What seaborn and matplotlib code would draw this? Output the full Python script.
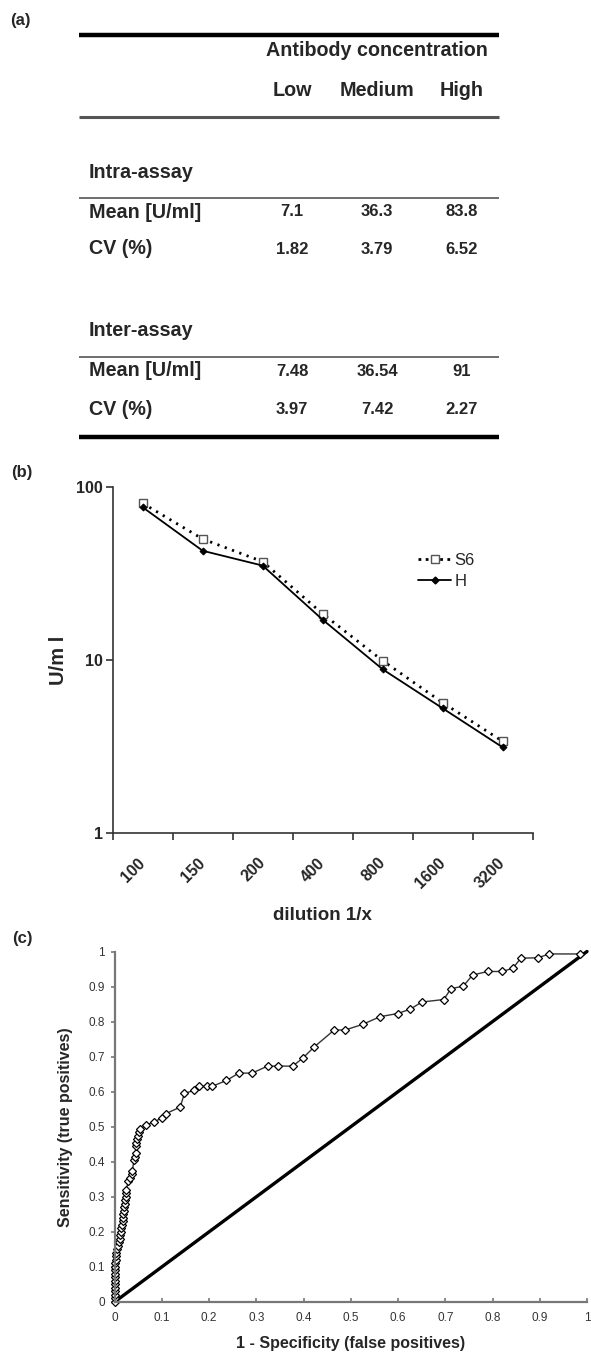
import numpy as np
import pandas as pd
import matplotlib
matplotlib.use("Agg")
import matplotlib.pyplot as plt
import seaborn as sns
from matplotlib.lines import Line2D

# ---------------- data ----------------
# (a) precision table
conc_header = "Antibody concentration"
conc_levels = ["Low", "Medium", "High"]
row_labels = ["Mean [U/ml]", "CV (%)"]
intra_mean = ["7.1", "36.3", "83.8"]
intra_cv = ["1.82", "3.79", "6.52"]
inter_mean = ["7.48", "36.54", "91"]
inter_cv = ["3.97", "7.42", "2.27"]

# (b) dilution series
dilutions = ["100", "150", "200", "400", "800", "1600", "3200"]
s6_values = [80.8, 50.2, 37.1, 18.5, 9.9, 5.66, 3.38]
h_values = [76.6, 42.9, 35.2, 17.1, 8.83, 5.25, 3.12]

# (c) ROC curve
roc_fpr = [0, 0, 0, 0, 0, 0, 0, 0, 0, 0.001, 0.002, 0.002, 0.003, 0.003, 0.004,
           0.006, 0.008, 0.009, 0.011, 0.012, 0.013, 0.014, 0.016, 0.017, 0.018,
           0.019, 0.020, 0.021, 0.022, 0.023, 0.024, 0.024, 0.025, 0.029, 0.033,
           0.036, 0.038, 0.041, 0.043, 0.046, 0.045, 0.046, 0.048, 0.050, 0.052,
           0.054, 0.066, 0.084, 0.100, 0.108, 0.139, 0.148, 0.169, 0.179, 0.196,
           0.206, 0.237, 0.263, 0.291, 0.324, 0.347, 0.377, 0.398, 0.422, 0.465,
           0.488, 0.525, 0.562, 0.599, 0.625, 0.651, 0.697, 0.712, 0.738, 0.758,
           0.790, 0.820, 0.843, 0.860, 0.896, 0.920, 0.985]
roc_tpr = [0, 0.01, 0.02, 0.03, 0.04, 0.05, 0.06, 0.07, 0.08, 0.09, 0.10, 0.11,
           0.12, 0.13, 0.14, 0.15, 0.16, 0.17, 0.18, 0.19, 0.20, 0.21, 0.22, 0.23,
           0.24, 0.25, 0.26, 0.27, 0.28, 0.29, 0.30, 0.31, 0.32, 0.345, 0.355,
           0.365, 0.375, 0.405, 0.415, 0.425, 0.445, 0.455, 0.465, 0.475, 0.485,
           0.493, 0.505, 0.514, 0.525, 0.537, 0.556, 0.595, 0.604, 0.615, 0.615,
           0.615, 0.632, 0.653, 0.653, 0.673, 0.673, 0.673, 0.695, 0.727, 0.776,
           0.776, 0.792, 0.814, 0.823, 0.835, 0.856, 0.863, 0.894, 0.901, 0.933,
           0.943, 0.943, 0.952, 0.981, 0.982, 0.993, 0.993]
chance_x = [0, 1]
chance_y = [0, 1]
roc_ticks = [0, 0.1, 0.2, 0.3, 0.4, 0.5, 0.6, 0.7, 0.8, 0.9, 1]
roc_ticklabels = ["0", "0.1", "0.2", "0.3", "0.4", "0.5", "0.6", "0.7", "0.8", "0.9", "1"]

# ---------------- style ----------------
sns.set_theme(style="white")
plt.rcParams["font.family"] = ["Liberation Sans", "DejaVu Sans"]

W, H = 591, 1353
fig = plt.figure(figsize=(W / 100, H / 100), dpi=100)


def fx(x):
    return x / W


def fy(y):
    return 1 - y / H


def hline(y, x0, x1, lw, color):
    fig.add_artist(Line2D([fx(x0), fx(x1)], [fy(y), fy(y)], lw=lw, color=color,
                          transform=fig.transFigure, solid_capstyle="butt"))


def ftext(x, y, s, **kw):
    fig.text(fx(x), fy(y), s, transform=fig.transFigure, **kw)


# ---------------- (a) table ----------------
ftext(20, 21, "(a)", fontsize=12, fontweight="bold", ha="center", va="center")
col_x = [292, 377, 462]
hline(34.5, 79, 499, 3.2, "black")
ftext(377, 51, conc_header, fontsize=14.2, fontweight="bold", ha="center", va="center")
for cx, lab in zip(col_x, conc_levels):
    ftext(cx, 90, lab, fontsize=14.2, fontweight="bold", ha="center", va="center")
hline(117.3, 79, 499, 2.2, "#555555")

sections = [("Intra-assay", 172, 197.7, [intra_mean, intra_cv], [212, 249]),
            ("Inter-assay", 331, 356.7, [inter_mean, inter_cv], [371, 410])]
for title, ty, ly, rows, rys in sections:
    ftext(89, ty, title, fontsize=14.2, fontweight="bold", ha="left", va="center")
    hline(ly, 79, 499, 1.2, "#555555")
    for lab, vals, ry in zip(row_labels, rows, rys):
        ftext(89, ry, lab, fontsize=14.2, fontweight="bold", ha="left", va="center")
        for cx, v in zip(col_x, vals):
            ftext(cx, ry, v, fontsize=12, fontweight="bold", ha="center", va="center")
hline(437.3, 79, 499, 3.2, "black")

# ---------------- (b) dilution ----------------
ftext(22, 473, "(b)", fontsize=12, fontweight="bold", ha="center", va="center")
axb = fig.add_axes([fx(112.7), fy(832.7), (532.7 - 112.7) / W, (832.7 - 487.3) / H])
df_b = pd.DataFrame({"dilution": dilutions, "S6": s6_values, "H": h_values})
dot_style = (0, (0.8, 2.0))
sns.lineplot(data=df_b, x="dilution", y="S6", ax=axb, sort=False, color="black",
             lw=2.0, linestyle=dot_style, marker="s", markersize=5.5,
             markerfacecolor="white", markeredgecolor="#555555", markeredgewidth=1.0)
sns.lineplot(data=df_b, x="dilution", y="H", ax=axb, sort=False, color="black",
             lw=1.3, marker="D", markersize=3.5, markerfacecolor="black",
             markeredgecolor="black")
axb.set_yscale("log")
axb.set_ylim(1, 100)
axb.set_xlim(-0.5, len(dilutions) - 0.5)
axb.set_yticks([1, 10, 100])
axb.set_yticklabels(["1", "10", "100"])
axb.yaxis.set_minor_locator(matplotlib.ticker.NullLocator())
axb.set_xticks(np.arange(len(dilutions)))
axb.set_xticklabels(dilutions, rotation=45, ha="right", va="center",
                    rotation_mode="anchor")
axb.set_xticks(np.arange(len(dilutions) + 1) - 0.5, minor=True)
axb.tick_params(axis="x", which="major", length=0, pad=20, labelsize=11.5)
axb.tick_params(axis="x", which="minor", length=5, width=1.2, color="#333333",
                direction="out", bottom=True)
axb.tick_params(axis="y", which="major", length=5, width=1.2, color="#333333",
                direction="out", left=True, labelsize=11.5, pad=2)
for lab in axb.get_xticklabels() + axb.get_yticklabels():
    lab.set_fontweight("bold")
for side in ["top", "right"]:
    axb.spines[side].set_visible(False)
for side in ["left", "bottom"]:
    axb.spines[side].set_color("#333333")
    axb.spines[side].set_linewidth(1.2)
axb.set_xlabel("")
axb.set_ylabel("U/m l", fontsize=14.5, fontweight="bold", labelpad=6)
ftext(322, 916, "dilution 1/x", fontsize=13.5, fontweight="bold", ha="center", va="center")
handles = [Line2D([], [], color="black", lw=2.0, linestyle=(0, (1.0, 1.6)), marker="s",
                  markersize=5.5, markerfacecolor="white", markeredgecolor="#555555"),
           Line2D([], [], color="black", lw=1.3, marker="D", markersize=3.5,
                  markerfacecolor="black")]
axb.legend(handles, ["S6", "H"], loc="upper left",
           bbox_to_anchor=((418 - 112.7) / 420, (832.7 - 553) / 345.4),
           frameon=False, fontsize=12, handlelength=2.0, handletextpad=0.2,
           labelspacing=0.35, borderpad=0, borderaxespad=0)

# ---------------- (c) ROC ----------------
ftext(22, 938, "(c)", fontsize=12, fontweight="bold", ha="center", va="center")
axc = fig.add_axes([fx(114.5), fy(1302), (587 - 114.5) / W, (1302 - 951.5) / H])
df_roc = pd.DataFrame({"fpr": roc_fpr, "tpr": roc_tpr})
df_diag = pd.DataFrame({"x": chance_x, "y": chance_y})
sns.lineplot(data=df_diag, x="x", y="y", ax=axc, color="black", lw=2.4)
sns.lineplot(data=df_roc, x="fpr", y="tpr", ax=axc, sort=False, estimator=None,
             color="#333333", lw=1.0, marker="D", markersize=4.5,
             markerfacecolor="white", markeredgecolor="black", markeredgewidth=0.9)
axc.set_xlim(0, 1)
axc.set_ylim(0, 1)
axc.set_xticks(roc_ticks)
axc.set_xticklabels(roc_ticklabels)
axc.set_yticks(roc_ticks)
axc.set_yticklabels(roc_ticklabels)
axc.tick_params(axis="x", length=3, width=1.2, color="#777777", direction="in",
                bottom=True, labelsize=8.5, labelcolor="#333333", pad=7)
axc.tick_params(axis="y", length=3, width=1.2, color="#777777", direction="out",
                left=True, labelsize=8.5, labelcolor="#333333", pad=4)
for side in ["top", "right"]:
    axc.spines[side].set_visible(False)
for side in ["left", "bottom"]:
    axc.spines[side].set_color("#777777")
    axc.spines[side].set_linewidth(1.6)
for ln in axc.lines:
    ln.set_clip_on(False)
axc.set_xlabel("1 - Specificity (false positives)", fontsize=11.5, fontweight="bold",
               labelpad=9)
axc.set_ylabel("Sensitivity (true positives)", fontsize=11.5, fontweight="bold",
               labelpad=11)

fig.savefig("out.png", dpi=100)
